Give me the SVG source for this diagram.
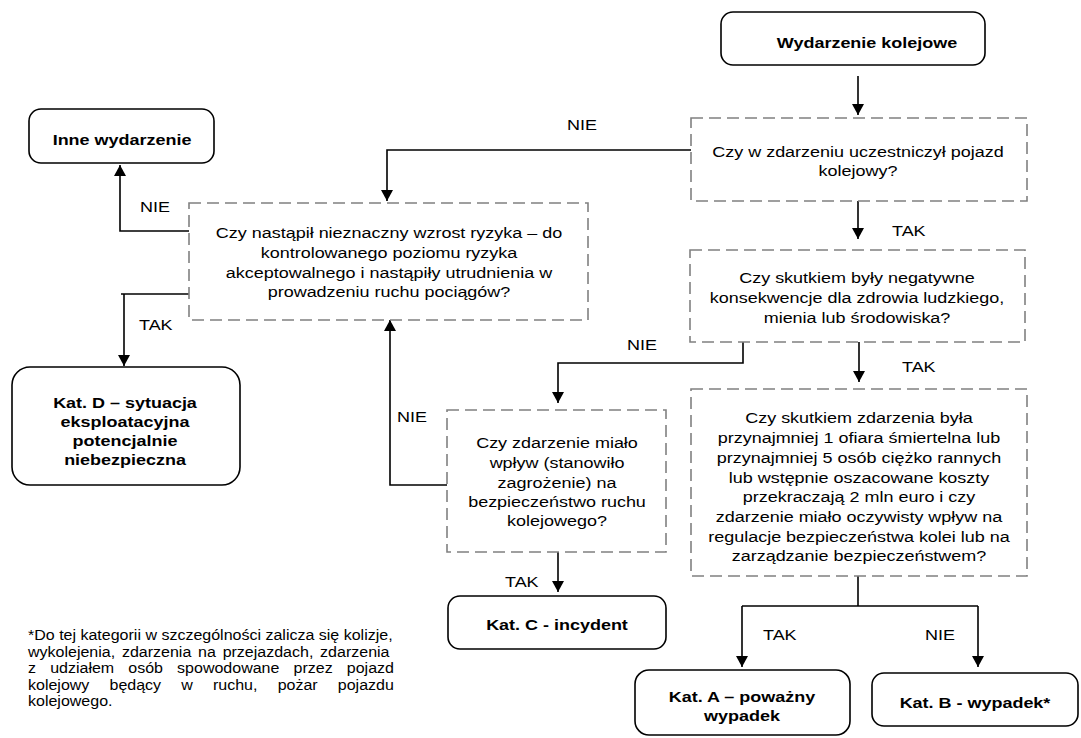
<svg xmlns="http://www.w3.org/2000/svg" width="1081" height="738" viewBox="0 0 1081 738">
<style>
text{font-family:"Liberation Sans",Arial,sans-serif;font-size:15.5px;fill:#000}
.c{text-anchor:middle}
.b{font-weight:bold}
.term{fill:#fff;stroke:#000;stroke-width:1.6}
.q{fill:#fff;stroke:#808080;stroke-width:1.6;stroke-dasharray:12 6}
.con{fill:none;stroke:#000;stroke-width:1.6}
.fn{font-size:13.8px}
</style>
<defs>
<marker id="ah" markerUnits="userSpaceOnUse" markerWidth="12" markerHeight="12" viewBox="0 0 12 12" refX="11" refY="6" orient="auto">
<path d="M0,0 L11,6 L0,12 Z" fill="#000"/>
</marker>
</defs>
<rect width="1081" height="738" fill="#fff"/>

<g id="connectors">
<path class="con" d="M858,76 V115" marker-end="url(#ah)"/>
<path class="con" d="M858,201 V239" marker-end="url(#ah)"/>
<path class="con" d="M859,342 V382" marker-end="url(#ah)"/>
<path class="con" d="M743,342 V363 H558 V403" marker-end="url(#ah)"/>
<path class="con" d="M858,576 V606"/>
<path class="con" d="M742,606 H978"/>
<path class="con" d="M742,606 V667" marker-end="url(#ah)"/>
<path class="con" d="M978,606 V667" marker-end="url(#ah)"/>
<path class="con" d="M558,552 V592" marker-end="url(#ah)"/>
<path class="con" d="M447,485 H390 V320" marker-end="url(#ah)"/>
<path class="con" d="M691,150 H387 V201" marker-end="url(#ah)"/>
<path class="con" d="M189,231 H120 V165" marker-end="url(#ah)"/>
<path class="con" d="M189,294 H121"/>
<path class="con" d="M124,294 V366" marker-end="url(#ah)"/>
</g>

<g id="labels">
<text transform="translate(892,0) scale(1.16,1)" x="0" y="236.5">TAK</text>
<text transform="translate(902,0) scale(1.16,1)" x="0" y="372.5">TAK</text>
<text transform="translate(627,0) scale(1.16,1)" x="0" y="350.5">NIE</text>
<text transform="translate(763,0) scale(1.16,1)" x="0" y="640.5">TAK</text>
<text transform="translate(925,0) scale(1.16,1)" x="0" y="640.5">NIE</text>
<text transform="translate(505,0) scale(1.16,1)" x="0" y="587.5">TAK</text>
<text transform="translate(397,0) scale(1.16,1)" x="0" y="422.5">NIE</text>
<text transform="translate(567,0) scale(1.16,1)" x="0" y="130.5">NIE</text>
<text transform="translate(140,0) scale(1.16,1)" x="0" y="212.5">NIE</text>
<text transform="translate(139,0) scale(1.16,1)" x="0" y="330.5">TAK</text>
</g>

<g id="start">
<rect class="term" x="721" y="12" width="264" height="53" rx="12"/>
<text class="c b" transform="translate(867,0) scale(1.16,1)" x="0" y="48.5">Wydarzenie kolejowe</text>
</g>

<g id="q1">
<rect class="q" x="691" y="118" width="336" height="83"/>
<text class="c" transform="translate(858,0) scale(1.16,1)"><tspan x="0" y="157.5">Czy w zdarzeniu uczestniczył pojazd</tspan><tspan x="0" y="176.5">kolejowy?</tspan></text>
</g>

<g id="q2">
<rect class="q" x="690" y="250" width="335" height="92"/>
<text class="c" transform="translate(857,0) scale(1.16,1)"><tspan x="0" y="283.5">Czy skutkiem były negatywne</tspan><tspan x="0" y="303.5">konsekwencje dla zdrowia ludzkiego,</tspan><tspan x="0" y="323.5">mienia lub środowiska?</tspan></text>
</g>

<g id="q3">
<rect class="q" x="691" y="389" width="336" height="187"/>
<text class="c" transform="translate(859,0) scale(1.16,1)"><tspan x="0" y="423.5">Czy skutkiem zdarzenia była</tspan><tspan x="0" y="443.5">przynajmniej 1 ofiara śmiertelna lub</tspan><tspan x="0" y="463.5">przynajmniej 5 osób ciężko rannych</tspan><tspan x="0" y="483.5">lub wstępnie oszacowane koszty</tspan><tspan x="0" y="502.5">przekraczają 2 mln euro i czy</tspan><tspan x="0" y="522.5">zdarzenie miało oczywisty wpływ na</tspan><tspan x="0" y="542.5">regulacje bezpieczeństwa kolei lub na</tspan><tspan x="0" y="561.5">zarządzanie bezpieczeństwem?</tspan></text>
</g>

<g id="q4">
<rect class="q" x="447" y="410" width="219" height="142"/>
<text class="c" transform="translate(557,0) scale(1.16,1)"><tspan x="0" y="448.5">Czy zdarzenie miało</tspan><tspan x="0" y="468.5">wpływ (stanowiło</tspan><tspan x="0" y="488.5">zagrożenie) na</tspan><tspan x="0" y="507.5">bezpieczeństwo ruchu</tspan><tspan x="0" y="526.5">kolejowego?</tspan></text>
</g>

<g id="q5">
<rect class="q" x="189" y="203" width="399" height="117"/>
<text class="c" transform="translate(389,0) scale(1.16,1)"><tspan x="0" y="238.5">Czy nastąpił nieznaczny wzrost ryzyka – do</tspan><tspan x="0" y="258.5">kontrolowanego poziomu ryzyka</tspan><tspan x="0" y="278.5">akceptowalnego i nastąpiły utrudnienia w</tspan><tspan x="0" y="297.5">prowadzeniu ruchu pociągów?</tspan></text>
</g>

<g id="inne">
<rect class="term" x="29" y="109" width="185" height="54" rx="12"/>
<text class="c b" transform="translate(122,0) scale(1.16,1)" x="0" y="145.5">Inne wydarzenie</text>
</g>

<g id="katD">
<rect class="term" x="12" y="367" width="228" height="118" rx="18"/>
<text class="c b" transform="translate(125,0) scale(1.16,1)"><tspan x="0" y="408.5">Kat. D – sytuacja</tspan><tspan x="0" y="427.5">eksploatacyjna</tspan><tspan x="0" y="446.5">potencjalnie</tspan><tspan x="0" y="465.5">niebezpieczna</tspan></text>
</g>

<g id="katC">
<rect class="term" x="448" y="596" width="218" height="53" rx="12"/>
<text class="c b" transform="translate(557,0) scale(1.16,1)" x="0" y="630.5">Kat. C - incydent</text>
</g>

<g id="katA">
<rect class="term" x="635" y="670" width="215" height="65" rx="14"/>
<text class="c b" transform="translate(742,0) scale(1.16,1)"><tspan x="0" y="702.5">Kat. A – poważny</tspan><tspan x="0" y="721.5">wypadek</tspan></text>
</g>

<g id="katB">
<rect class="term" x="872" y="673" width="206" height="53" rx="12"/>
<text class="c b" transform="translate(975,0) scale(1.16,1)" x="0" y="708.5">Kat. B - wypadek*</text>
</g>

<g id="footnote">
<text class="fn" transform="translate(28,0) scale(1.16,1)"><tspan x="0" y="640">*Do tej kategorii w szczególności zalicza się kolizje,</tspan><tspan x="0" y="657" word-spacing="2">wykolejenia, zdarzenia na przejazdach, zdarzenia</tspan><tspan x="0" y="673" word-spacing="8.35">z udziałem osób spowodowane przez pojazd</tspan><tspan x="0" y="690" word-spacing="13.55">kolejowy będący w ruchu, pożar pojazdu</tspan><tspan x="0" y="706">kolejowego.</tspan></text>
</g>
</svg>
